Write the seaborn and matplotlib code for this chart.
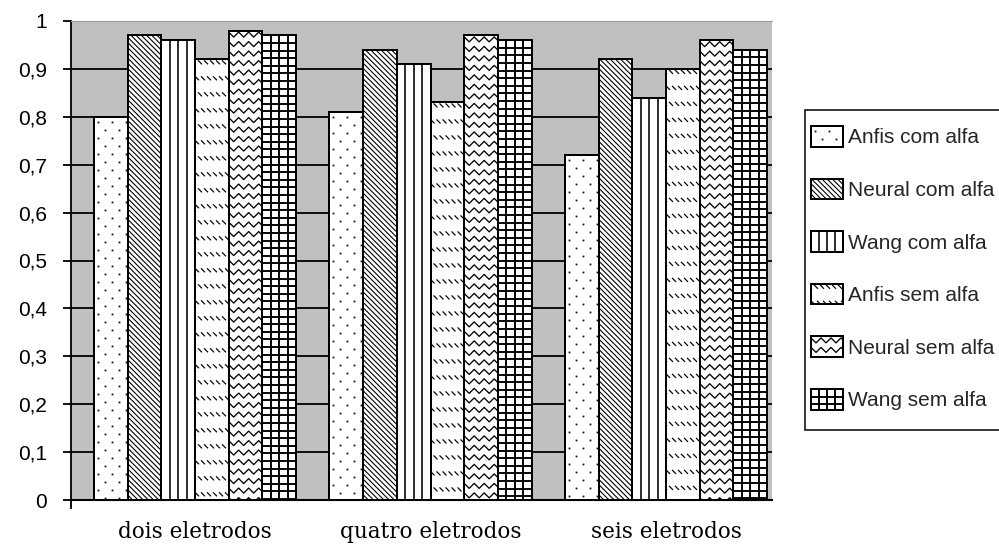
import numpy as np
import pandas as pd
import matplotlib
matplotlib.use("Agg")
import matplotlib.pyplot as plt
import seaborn as sns
from matplotlib.collections import LineCollection
from matplotlib.lines import Line2D
from matplotlib.patches import Rectangle
from matplotlib.transforms import Bbox, IdentityTransform

# ---- data -------------------------------------------------------------
categories = ["dois eletrodos", "quatro eletrodos", "seis eletrodos"]
series = ["Anfis com alfa", "Neural com alfa", "Wang com alfa",
          "Anfis sem alfa", "Neural sem alfa", "Wang sem alfa"]
anfis_com = [0.80, 0.81, 0.72]
neural_com = [0.97, 0.94, 0.92]
wang_com = [0.96, 0.91, 0.84]
anfis_sem = [0.92, 0.83, 0.90]
neural_sem = [0.98, 0.97, 0.96]
wang_sem = [0.97, 0.96, 0.94]
y_ticks = [0.0, 0.1, 0.2, 0.3, 0.4, 0.5, 0.6, 0.7, 0.8, 0.9, 1.0]
y_tick_labels = ["0", "0,1", "0,2", "0,3", "0,4", "0,5",
                 "0,6", "0,7", "0,8", "0,9", "1"]

values = [anfis_com, neural_com, wang_com, anfis_sem, neural_sem, wang_sem]
df = pd.DataFrame({
    "categoria": [c for _ in series for c in categories],
    "serie": [s for s in series for _ in categories],
    "valor": [v for vals in values for v in vals],
})

sns.set_theme(style="white")
plt.rcParams["font.family"] = ["Liberation Sans", "DejaVu Sans"]

W, H = 999, 552
fig = plt.figure(figsize=(W / 100, H / 100), dpi=100)
fig.patch.set_facecolor("white")
ax = fig.add_axes([71 / W, 52 / H, 701 / W, 479 / H])
ax.set_facecolor("#c0c0c0")

sns.barplot(data=df, x="categoria", y="valor", hue="serie",
            order=categories, hue_order=series,
            palette=["white"] * len(series), saturation=1,
            width=0.858, gap=0, edgecolor="black", linewidth=1.4,
            legend=False, ax=ax, zorder=3)

x_left, x_right = -0.5265, 2.450
ax.set_xlim(x_left, x_right)
ax.set_ylim(0, 1)
ax.set_xlabel("")
ax.set_ylabel("")

# grid, spines, ticks
ax.set_yticks(y_ticks)
ax.set_yticklabels(y_tick_labels)
ax.yaxis.grid(True, color="black", linewidth=1.3)
ax.set_axisbelow(True)
ax.spines["right"].set_visible(False)
ax.spines["top"].set_color("#9a9a9a")
ax.spines["top"].set_linewidth(0.8)
ax.spines["left"].set_color("black")
ax.spines["left"].set_linewidth(1.3)
ax.spines["bottom"].set_color("black")
ax.spines["bottom"].set_linewidth(1.5)

ax.tick_params(axis="y", which="major", direction="out", length=5.8,
               width=1.3, color="black", pad=11.5, labelsize=15,
               labelcolor="black", left=True)
ax.tick_params(axis="x", which="major", length=0, pad=15, labelsize=15.5,
               labelcolor="black")
for lab in ax.get_xticklabels():
    lab.set_family("DejaVu Serif")
ax.set_xticks([x_left], minor=True)
ax.tick_params(axis="x", which="minor", direction="out", length=6.5,
               width=1.3, color="black", bottom=True)

# legend frame and entries
frame = Rectangle((805, H - 430), 220, 320, transform=IdentityTransform(),
                  facecolor="white", edgecolor="black", linewidth=1.1,
                  zorder=4)
fig.add_artist(frame)
handles = [Rectangle((0, 0), 1, 1, facecolor="white", edgecolor="black",
                     linewidth=1.4) for _ in series]
leg_kw = dict(loc="upper left", frameon=False, fontsize=15, borderpad=0,
              borderaxespad=0, handlelength=1.54, handleheight=1.15,
              handletextpad=0.24)
spacing = 1.5
anchor = [811.0, H - 126.0]
leg = None
for _ in range(3):
    if leg is not None:
        leg.remove()
    leg = fig.legend(handles, series,
                     bbox_to_anchor=(anchor[0] / W, anchor[1] / H),
                     labelspacing=spacing, **leg_kw)
    leg.set_zorder(5)
    fig.canvas.draw()
    pats = leg.get_patches()
    first, last = pats[0].get_window_extent(), pats[-1].get_window_extent()
    pitch = ((first.y0 + first.y1) - (last.y0 + last.y1)) / 2 / 5
    spacing += (52.6 - pitch) / (15 * 100 / 72)
    anchor[0] += 811 - first.x0
    anchor[1] += (H - 126) - first.y1

LW = 0.72  # points per pixel at 100 dpi


def pattern_artists(kind, bb):
    x0, y0, x1, y1 = bb.x0, bb.y0, bb.x1, bb.y1
    w, h = x1 - x0, y1 - y0
    segs, dots = [], None
    lw = 1.0
    if kind == 0:  # sparse staggered dots
        xs, ys = [], []
        j = 0
        y = y1 - 5
        while y > y0:
            x = x0 + 4 + (j % 2) * 7
            while x < x1:
                xs.append(x)
                ys.append(y)
                x += 14
            y -= 8
            j += 1
        dots = (xs, ys)
    elif kind == 1:  # dense diagonal lines
        c = x0 - h
        while c < x1:
            segs.append([(c, y1), (c + h, y0)])
            c += 5.2
        lw = 1.1
    elif kind == 2:  # vertical lines
        for k in (1, 2, 3):
            xk = x0 + k * w / 4
            segs.append([(xk, y0), (xk, y1)])
        lw = 1.6
    elif kind == 3:  # rows of short diagonal dashes
        j = 0
        yc = y1 - 3
        while yc > y0 - 4:
            xs = x0 - 3 + (j % 2) * 3
            while xs < x1:
                segs.append([(xs, yc + 2), (xs + 4, yc - 2)])
                xs += 6
            yc -= 16
            j += 1
        lw = 1.2
    elif kind == 4:  # horizontal zigzag waves
        yc = y1 - 4
        while yc > y0 - 4:
            pts = []
            x = x0 - 5
            k = 0
            while x < x1 + 6:
                pts.append((x, yc + (2.5 if k % 2 else -2.5)))
                x += 5
                k += 1
            segs.append(pts)
            yc -= 9.5
        lw = 1.3
    elif kind == 5:  # grid of thick lines
        for k in (1, 2, 3):
            xk = x0 + k * w / 4
            segs.append([(xk, y0), (xk, y1)])
        y = y1 - 7.6
        while y > y0:
            segs.append([(x0, y), (x1, y)])
            y -= 7.6
        lw = 1.9
    clip = Bbox([[x0, y0], [x1, y1]])
    arts = []
    if segs:
        lc = LineCollection(segs, colors="black", linewidths=lw * LW,
                            transform=IdentityTransform(), zorder=6)
        lc.set_clip_box(clip)
        arts.append(lc)
    if dots is not None:
        ln = Line2D(dots[0], dots[1], transform=IdentityTransform(),
                    linestyle="none", marker="s", markersize=1.3,
                    markeredgewidth=0, color="#111111", zorder=6)
        ln.set_clip_box(clip)
        arts.append(ln)
    # outline drawn again on top of the pattern
    outline = Rectangle((x0, y0), w, h, transform=IdentityTransform(),
                        facecolor="none", edgecolor="black",
                        linewidth=1.9 * LW, zorder=7)
    arts.append(outline)
    return arts


for i, cont in enumerate(ax.containers):
    for bar in cont:
        for art in pattern_artists(i, bar.get_window_extent()):
            fig.add_artist(art)

for i, patch in enumerate(leg.get_patches()):
    for art in pattern_artists(i, patch.get_window_extent()):
        art.set_zorder(art.get_zorder() + 2)
        fig.add_artist(art)

fig.savefig("out.png", dpi=100)
